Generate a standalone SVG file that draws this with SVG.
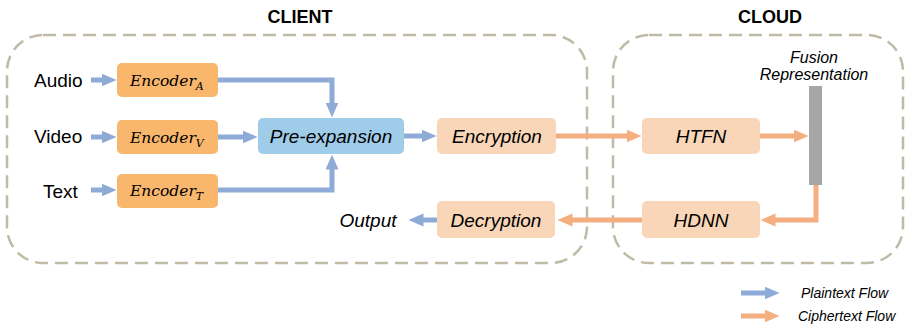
<svg xmlns="http://www.w3.org/2000/svg" width="905" height="324" viewBox="0 0 905 324">
  <style>
    .region { fill: none; stroke: #BFBBA6; stroke-width: 2.5; stroke-dasharray: 13 7; }
    .title { font-family: "Liberation Sans", Arial, sans-serif; font-weight: bold; font-size: 18px; fill: #000; text-anchor: middle; }
    .label { font-family: "Liberation Sans", Arial, sans-serif; font-size: 19px; fill: #000; }
    .ilabel { font-family: "Liberation Sans", Arial, sans-serif; font-style: italic; font-size: 19px; fill: #000; text-anchor: middle; }
    .small { font-family: "Liberation Sans", Arial, sans-serif; font-style: italic; font-size: 16px; fill: #000; text-anchor: middle; }
    .legend { font-family: "Liberation Sans", Arial, sans-serif; font-style: italic; font-size: 14px; fill: #000; }
    .enc { fill: #F9B66D; }
    .cipher { fill: #F8D6B7; }
    .pre { fill: #9FCCE8; }
    .math { font-family: "DejaVu Serif", "Liberation Serif", serif; font-style: italic; font-size: 15.5px; fill: #000; }
    .sub { font-size: 11px; }
    .plain { fill: none; stroke: #8EABD8; stroke-width: 5; marker-end: url(#headBlue); }
    .ciph { fill: none; stroke: #F4AE80; stroke-width: 5; marker-end: url(#headOrange); }
  </style>
  <defs>
    <marker id="headBlue" markerUnits="userSpaceOnUse" markerWidth="15" markerHeight="14" refX="0.5" refY="6.5" orient="auto">
      <path d="M0,0 L15,6.5 L0,13 z" fill="#8EABD8"/>
    </marker>
    <marker id="headOrange" markerUnits="userSpaceOnUse" markerWidth="15" markerHeight="14" refX="0.5" refY="6.5" orient="auto">
      <path d="M0,0 L15,6.5 L0,13 z" fill="#F4AE80"/>
    </marker>
  </defs>

  <!-- regions -->
  <g id="client">
    <rect class="region" x="7" y="35" width="580" height="228" rx="36" ry="36"/>
    <text class="title" x="300" y="23">CLIENT</text>
  </g>
  <g id="cloud">
    <rect class="region" x="613" y="35" width="290" height="228" rx="36" ry="36"/>
    <text class="title" x="770" y="23">CLOUD</text>
  </g>

  <!-- inputs -->
  <g id="audio"><text class="label" x="34" y="87">Audio</text></g>
  <g id="video"><text class="label" x="34" y="143">Video</text></g>
  <g id="text"><text class="label" x="43" y="198">Text</text></g>

  <!-- encoders -->
  <g id="encoderA">
    <rect class="enc" x="117" y="63" width="101" height="34" rx="5"/>
    <text class="math" x="130" y="86">Encoder<tspan class="sub" dy="4">A</tspan></text>
  </g>
  <g id="encoderV">
    <rect class="enc" x="117" y="120" width="101" height="34" rx="5"/>
    <text class="math" x="130" y="143">Encoder<tspan class="sub" dy="4">V</tspan></text>
  </g>
  <g id="encoderT">
    <rect class="enc" x="117" y="174" width="101" height="34" rx="5"/>
    <text class="math" x="130" y="196">Encoder<tspan class="sub" dy="4">T</tspan></text>
  </g>

  <!-- client processing -->
  <g id="preexpansion">
    <rect class="pre" x="258" y="118" width="146" height="36" rx="5"/>
    <text class="ilabel" x="331" y="143">Pre-expansion</text>
  </g>
  <g id="encryption">
    <rect class="cipher" x="437" y="118" width="119" height="36" rx="5"/>
    <text class="ilabel" x="497" y="143">Encryption</text>
  </g>
  <g id="decryption">
    <rect class="cipher" x="437" y="201" width="118" height="37" rx="5"/>
    <text class="ilabel" x="496" y="227">Decryption</text>
  </g>
  <g id="output"><text class="ilabel" x="368" y="227">Output</text></g>

  <!-- cloud processing -->
  <g id="htfn">
    <rect class="cipher" x="642" y="118" width="118" height="36" rx="5"/>
    <text class="ilabel" x="701" y="143">HTFN</text>
  </g>
  <g id="fusion">
    <rect x="809" y="86" width="13" height="99" fill="#A6A6A6"/>
    <text class="small" x="814" y="63">Fusion</text>
    <text class="small" x="814" y="80">Representation</text>
  </g>
  <g id="hdnn">
    <rect class="cipher" x="642" y="201" width="118" height="37" rx="5"/>
    <text class="ilabel" x="701" y="227">HDNN</text>
  </g>

  <!-- connectors -->
  <g id="connectors">
    <path class="plain" d="M91,80 H102"/>
    <path class="plain" d="M91,137 H102"/>
    <path class="plain" d="M91,190 H102"/>
    <path class="plain" d="M218,80 H332 V103"/>
    <path class="plain" d="M218,137 H243"/>
    <path class="plain" d="M218,190 H332 V169"/>
    <path class="plain" d="M404,136 H422"/>
    <path class="plain" d="M437,220 H423"/>
    <path class="ciph" d="M556,136 H627"/>
    <path class="ciph" d="M760,136 H794"/>
    <path class="ciph" d="M816,185 V220 H775"/>
    <path class="ciph" d="M642,220 H572"/>
  </g>

  <!-- legend -->
  <g id="legend">
    <path class="plain" d="M741,293 H765"/>
    <text class="legend" x="801" y="298">Plaintext Flow</text>
    <path class="ciph" d="M741,316 H765"/>
    <text class="legend" x="798" y="321">Ciphertext Flow</text>
  </g>
</svg>
